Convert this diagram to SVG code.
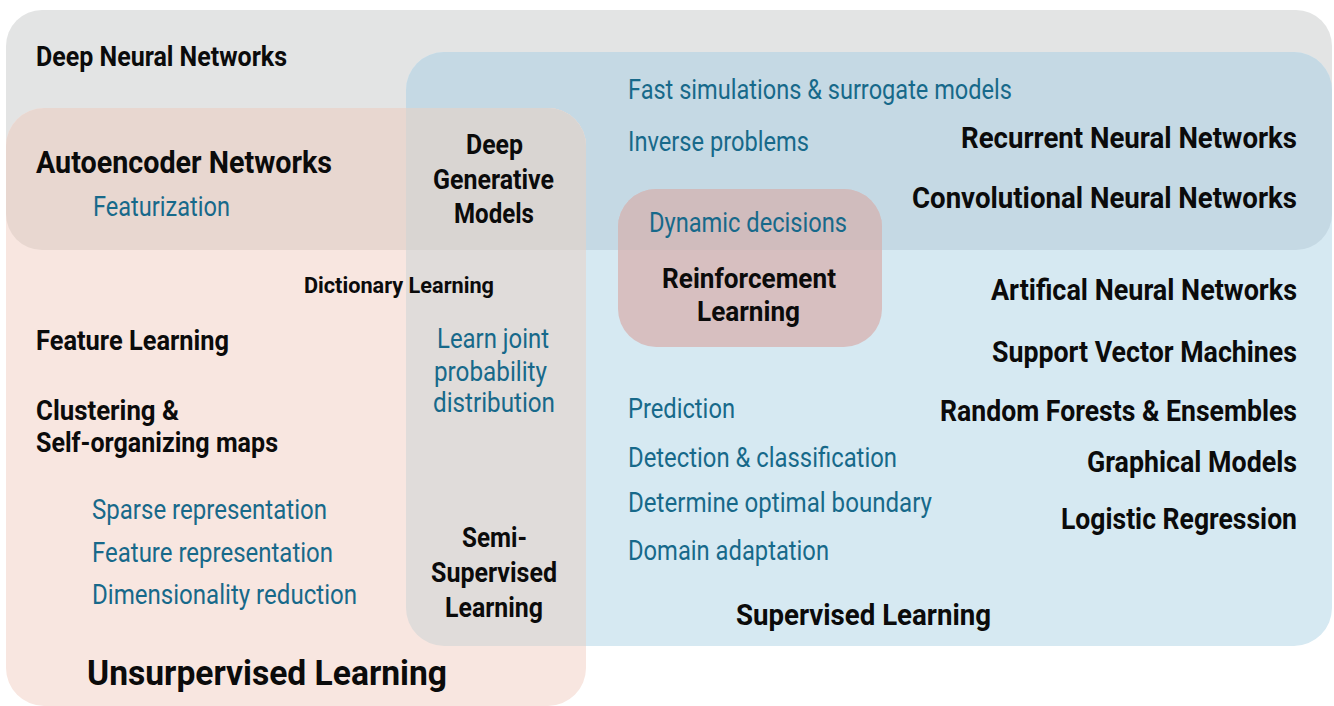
<svg xmlns="http://www.w3.org/2000/svg" width="1334" height="706" viewBox="0 0 1334 706">
<style>
.b{font-family:Roboto,"Liberation Sans","DejaVu Sans",sans-serif;font-weight:700;fill:#0b0b0b}
.t{font-family:Roboto,"Liberation Sans","DejaVu Sans",sans-serif;font-weight:400;fill:#17698a}
</style>
<defs>
<clipPath id="clipGray"><rect x="6" y="10" width="1326" height="240" rx="36"/></clipPath>
<clipPath id="clipBlue"><rect x="406" y="52" width="926" height="594" rx="38"/></clipPath>
</defs>
<rect width="1334" height="706" fill="#ffffff"/>
<g id="deep-neural-networks">
<rect x="6" y="10" width="1326" height="240" rx="36" fill="#e3e4e4"/>
<text class="b" x="36" y="66" font-size="27" textLength="251" lengthAdjust="spacingAndGlyphs">Deep Neural Networks</text>
</g>
<g id="supervised-learning">
<rect x="406" y="52" width="926" height="594" rx="38" fill="#d6e9f2"/>
<rect x="406" y="52" width="926" height="594" rx="38" fill="#c5d9e4" clip-path="url(#clipGray)"/>
<text class="t" x="628" y="99" font-size="27" textLength="384" lengthAdjust="spacingAndGlyphs">Fast simulations &amp; surrogate models</text>
<text class="t" x="628" y="151" font-size="27" textLength="181" lengthAdjust="spacingAndGlyphs">Inverse problems</text>
<text class="b" x="961" y="148" font-size="29" textLength="336" lengthAdjust="spacingAndGlyphs">Recurrent Neural Networks</text>
<text class="b" x="912" y="208" font-size="29" textLength="385" lengthAdjust="spacingAndGlyphs">Convolutional Neural Networks</text>
<text class="b" x="991" y="300" font-size="29" textLength="306" lengthAdjust="spacingAndGlyphs">Artifical Neural Networks</text>
<text class="b" x="992" y="362" font-size="29" textLength="305" lengthAdjust="spacingAndGlyphs">Support Vector Machines</text>
<text class="b" x="940" y="421" font-size="29" textLength="357" lengthAdjust="spacingAndGlyphs">Random Forests &amp; Ensembles</text>
<text class="b" x="1087" y="472" font-size="29" textLength="210" lengthAdjust="spacingAndGlyphs">Graphical Models</text>
<text class="b" x="1061" y="529" font-size="29" textLength="236" lengthAdjust="spacingAndGlyphs">Logistic Regression</text>
<text class="t" x="628" y="418" font-size="27" textLength="107" lengthAdjust="spacingAndGlyphs">Prediction</text>
<text class="t" x="628" y="467" font-size="27" textLength="269" lengthAdjust="spacingAndGlyphs">Detection &amp; classification</text>
<text class="t" x="628" y="512" font-size="27" textLength="304" lengthAdjust="spacingAndGlyphs">Determine optimal boundary</text>
<text class="t" x="628" y="560" font-size="27" textLength="201" lengthAdjust="spacingAndGlyphs">Domain adaptation</text>
<text class="b" x="736" y="625" font-size="29" textLength="255" lengthAdjust="spacingAndGlyphs">Supervised Learning</text>
</g>
<g id="unsupervised-learning">
<rect x="6" y="108" width="580" height="598" rx="38" fill="#f8e6e0"/>
<rect x="6" y="108" width="580" height="598" rx="38" fill="#e8d7d0" clip-path="url(#clipGray)"/>
<rect x="6" y="108" width="580" height="598" rx="38" fill="#e0dcda" clip-path="url(#clipBlue)"/>
<g clip-path="url(#clipGray)"><rect x="6" y="108" width="580" height="598" rx="38" fill="#d9d5d2" clip-path="url(#clipBlue)"/></g>
<text class="b" x="36" y="173" font-size="32" textLength="296" lengthAdjust="spacingAndGlyphs">Autoencoder Networks</text>
<text class="t" x="93" y="216" font-size="27" textLength="137" lengthAdjust="spacingAndGlyphs">Featurization</text>
<text class="b" x="304" y="293" font-size="22" textLength="190" lengthAdjust="spacingAndGlyphs">Dictionary Learning</text>
<text class="b" x="36" y="350" font-size="27" textLength="193" lengthAdjust="spacingAndGlyphs">Feature Learning</text>
<text class="b" x="36" y="420" font-size="27" textLength="143" lengthAdjust="spacingAndGlyphs">Clustering &amp;</text>
<text class="b" x="36" y="452" font-size="27" textLength="242" lengthAdjust="spacingAndGlyphs">Self-organizing maps</text>
<text class="t" x="92" y="519" font-size="27" textLength="235" lengthAdjust="spacingAndGlyphs">Sparse representation</text>
<text class="t" x="92" y="562" font-size="27" textLength="241" lengthAdjust="spacingAndGlyphs">Feature representation</text>
<text class="t" x="92" y="604" font-size="27" textLength="265" lengthAdjust="spacingAndGlyphs">Dimensionality reduction</text>
<text class="b" x="87" y="685" font-size="35" textLength="360" lengthAdjust="spacingAndGlyphs">Unsurpervised Learning</text>
</g>
<g id="deep-generative-models">
<text class="b" x="466" y="154" font-size="27" textLength="57" lengthAdjust="spacingAndGlyphs">Deep</text>
<text class="b" x="433" y="189" font-size="27" textLength="121" lengthAdjust="spacingAndGlyphs">Generative</text>
<text class="b" x="454" y="223" font-size="27" textLength="80" lengthAdjust="spacingAndGlyphs">Models</text>
</g>
<g id="learn-joint-probability">
<text class="t" x="437" y="348" font-size="27" textLength="112" lengthAdjust="spacingAndGlyphs">Learn joint</text>
<text class="t" x="434" y="381" font-size="27" textLength="113" lengthAdjust="spacingAndGlyphs">probability</text>
<text class="t" x="433" y="412" font-size="27" textLength="122" lengthAdjust="spacingAndGlyphs">distribution</text>
</g>
<g id="semi-supervised-learning">
<text class="b" x="462" y="547" font-size="27" textLength="65" lengthAdjust="spacingAndGlyphs">Semi-</text>
<text class="b" x="431" y="582" font-size="27" textLength="126" lengthAdjust="spacingAndGlyphs">Supervised</text>
<text class="b" x="445" y="617" font-size="27" textLength="98" lengthAdjust="spacingAndGlyphs">Learning</text>
</g>
<g id="reinforcement-learning">
<rect x="618" y="189" width="264" height="158" rx="38" fill="#d7bfc0"/>
<rect x="618" y="189" width="264" height="158" rx="38" fill="#d0bcbd" clip-path="url(#clipGray)"/>
<text class="t" x="649" y="232" font-size="27" textLength="198" lengthAdjust="spacingAndGlyphs">Dynamic decisions</text>
<text class="b" x="662" y="288" font-size="27" textLength="174" lengthAdjust="spacingAndGlyphs">Reinforcement</text>
<text class="b" x="697" y="321" font-size="27" textLength="103" lengthAdjust="spacingAndGlyphs">Learning</text>
</g>
</svg>
